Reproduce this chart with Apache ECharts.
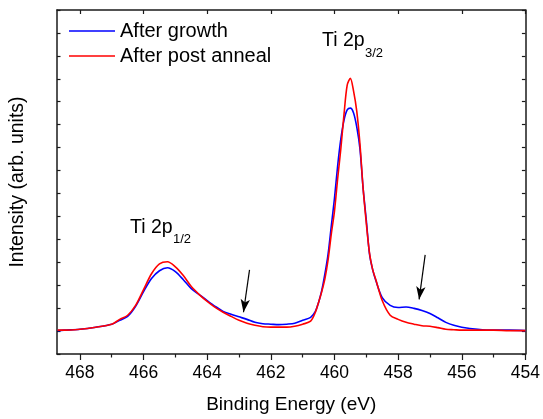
<!DOCTYPE html>
<html>
<head>
<meta charset="utf-8">
<script src="https://cdn.jsdelivr.net/npm/echarts@6/dist/echarts.min.js"></script>
<style>html,body{margin:0;padding:0;background:#fff;}#c{width:543px;height:419px;}</style>
</head>
<body>
<div id="c"></div>
<script>
const energy = [468.7,468.5,468.0,467.5,467.0,466.75,466.5,466.25,466.0,465.75,465.5,465.25,465.0,464.75,464.5,464.25,464.0,463.75,463.5,463.25,463.0,462.75,462.5,462.25,462.0,461.75,461.5,461.25,461.0,460.75,460.6,460.5,460.4,460.3,460.2,460.1,460.0,459.9,459.8,459.7,459.6,459.5,459.4,459.3,459.2,459.1,459.0,458.9,458.8,458.7,458.5,458.25,458.0,457.75,457.5,457.25,457.0,456.75,456.5,456.25,456.0,455.5,455.0,454.5,454.0];
const afterGrowth = [1.02,1.04,1.08,1.17,1.30,1.47,1.64,2.08,2.72,3.29,3.63,3.76,3.59,3.24,2.85,2.59,2.33,2.08,1.86,1.73,1.62,1.51,1.38,1.32,1.30,1.28,1.30,1.34,1.47,1.60,1.86,2.25,2.77,3.50,4.37,5.58,6.79,8.21,9.38,10.20,10.64,10.72,10.51,9.90,8.95,7.22,5.84,4.37,3.68,3.20,2.46,2.12,2.03,2.05,1.99,1.90,1.77,1.58,1.38,1.25,1.17,1.08,1.04,1.04,1.02];
const afterAnneal = [1.04,1.04,1.08,1.17,1.30,1.51,1.69,2.12,2.81,3.50,3.93,4.02,3.80,3.42,2.94,2.59,2.29,2.03,1.82,1.64,1.47,1.34,1.25,1.19,1.17,1.17,1.17,1.21,1.30,1.43,1.82,2.25,2.72,3.29,4.11,5.23,6.23,7.65,8.95,10.46,11.72,12.02,11.46,10.59,9.17,7.22,5.71,4.41,3.68,3.24,2.33,1.69,1.51,1.38,1.30,1.23,1.21,1.15,1.08,1.06,1.04,1.04,1.04,1.02,1.02];
const xMajorTicks = [454,456,458,460,462,464,466,468];
const xMinorTicks = [455,457,459,461,463,465,467];
const arrow1 = [[462.67,3.67],[462.86,1.82]];
const arrow2 = [[457.15,4.32],[457.34,2.38]];

const FONT = 'Liberation Sans, Arial, sans-serif';
const lineC = '#1a1a1a';
const chart = echarts.init(document.getElementById('c'), null, {renderer:'canvas'});
const xBase = {type:'value', min:454, max:468.72, inverse:true, splitLine:{show:false}, gridIndex:0};
const yBase = {type:'value', min:0, max:15, interval:1, splitLine:{show:false}, axisLabel:{show:false}};
chart.setOption({
  animation:false,
  backgroundColor:'#fff',
  grid:{left:55,right:16,top:10,bottom:62,containLabel:false},
  legend:{
    orient:'vertical', left:69, top:21, padding:0, itemWidth:46, itemHeight:1.6, itemGap:5, icon:'rect',
    textStyle:{fontFamily:FONT, fontSize:20, color:'#000', lineHeight:20},
    data:['After growth','After post anneal']
  },
  xAxis:[
    Object.assign({}, xBase, {position:'bottom',
      axisLine:{show:true, lineStyle:{color:lineC, width:1.5}},
      axisTick:{show:true, inside:false, length:6, customValues:xMajorTicks, lineStyle:{color:lineC, width:1.2}},
      axisLabel:{show:true, customValues:xMajorTicks, fontFamily:FONT, fontSize:17.5, color:'#000', margin:10},
      name:'Binding Energy (eV)', nameLocation:'middle', nameGap:41,
      nameTextStyle:{fontFamily:FONT, fontSize:19, color:'#000'}}),
    Object.assign({}, xBase, {position:'bottom',
      axisLine:{show:false},
      axisTick:{show:true, inside:false, length:3.5, customValues:xMinorTicks, lineStyle:{color:lineC, width:1.2}},
      axisLabel:{show:false}}),
    Object.assign({}, xBase, {position:'top',
      axisLine:{show:true, lineStyle:{color:lineC, width:1.5}},
      axisTick:{show:true, inside:true, length:4, customValues:xMajorTicks, lineStyle:{color:lineC, width:1.2}},
      axisLabel:{show:false}})
  ],
  yAxis:[
    Object.assign({}, yBase, {position:'left',
      axisLine:{show:true, lineStyle:{color:lineC, width:1.5}},
      axisTick:{show:true, inside:true, length:3.5, lineStyle:{color:lineC, width:1.2}},
      name:'Intensity (arb. units)', nameLocation:'middle', nameGap:29,
      nameTextStyle:{fontFamily:FONT, fontSize:19.5, color:'#000'}}),
    Object.assign({}, yBase, {position:'right',
      axisLine:{show:true, lineStyle:{color:lineC, width:1.5}},
      axisTick:{show:true, inside:true, length:3.5, lineStyle:{color:lineC, width:1.2}}})
  ],
  series:[
    {name:'After growth', type:'line', xAxisIndex:0, yAxisIndex:0, symbol:'none', smooth:0.3,
     lineStyle:{color:'#0000ff', width:1.6}, itemStyle:{color:'#0000ff'},
     data:energy.map((e,i)=>[e, afterGrowth[i]]), z:2},
    {name:'After post anneal', type:'line', xAxisIndex:0, yAxisIndex:0, symbol:'none', smooth:0.3,
     lineStyle:{color:'#ff0000', width:1.6}, itemStyle:{color:'#ff0000'},
     data:energy.map((e,i)=>[e, afterAnneal[i]]), z:3,
     markLine:{silent:true, symbol:['none','arrow'], symbolSize:[7,13], animation:false,
       lineStyle:{color:'#000', width:1.2, type:'solid'}, label:{show:false},
       data:[[{coord:arrow1[0]},{coord:arrow1[1]}],[{coord:arrow2[0]},{coord:arrow2[1]}]]}}
  ],
  graphic:[
    {type:'text', x:322, y:41, style:{text:'Ti 2p', fontFamily:FONT, fontSize:19.5, fill:'#000', verticalAlign:'middle', align:'left'}},
    {type:'text', x:365, y:53.5, style:{text:'3/2', fontFamily:FONT, fontSize:13, fill:'#000', verticalAlign:'middle', align:'left'}},
    {type:'text', x:130, y:228, style:{text:'Ti 2p', fontFamily:FONT, fontSize:19.5, fill:'#000', verticalAlign:'middle', align:'left'}},
    {type:'text', x:173, y:239.5, style:{text:'1/2', fontFamily:FONT, fontSize:13, fill:'#000', verticalAlign:'middle', align:'left'}}
  ]
});
</script>
</body>
</html>
